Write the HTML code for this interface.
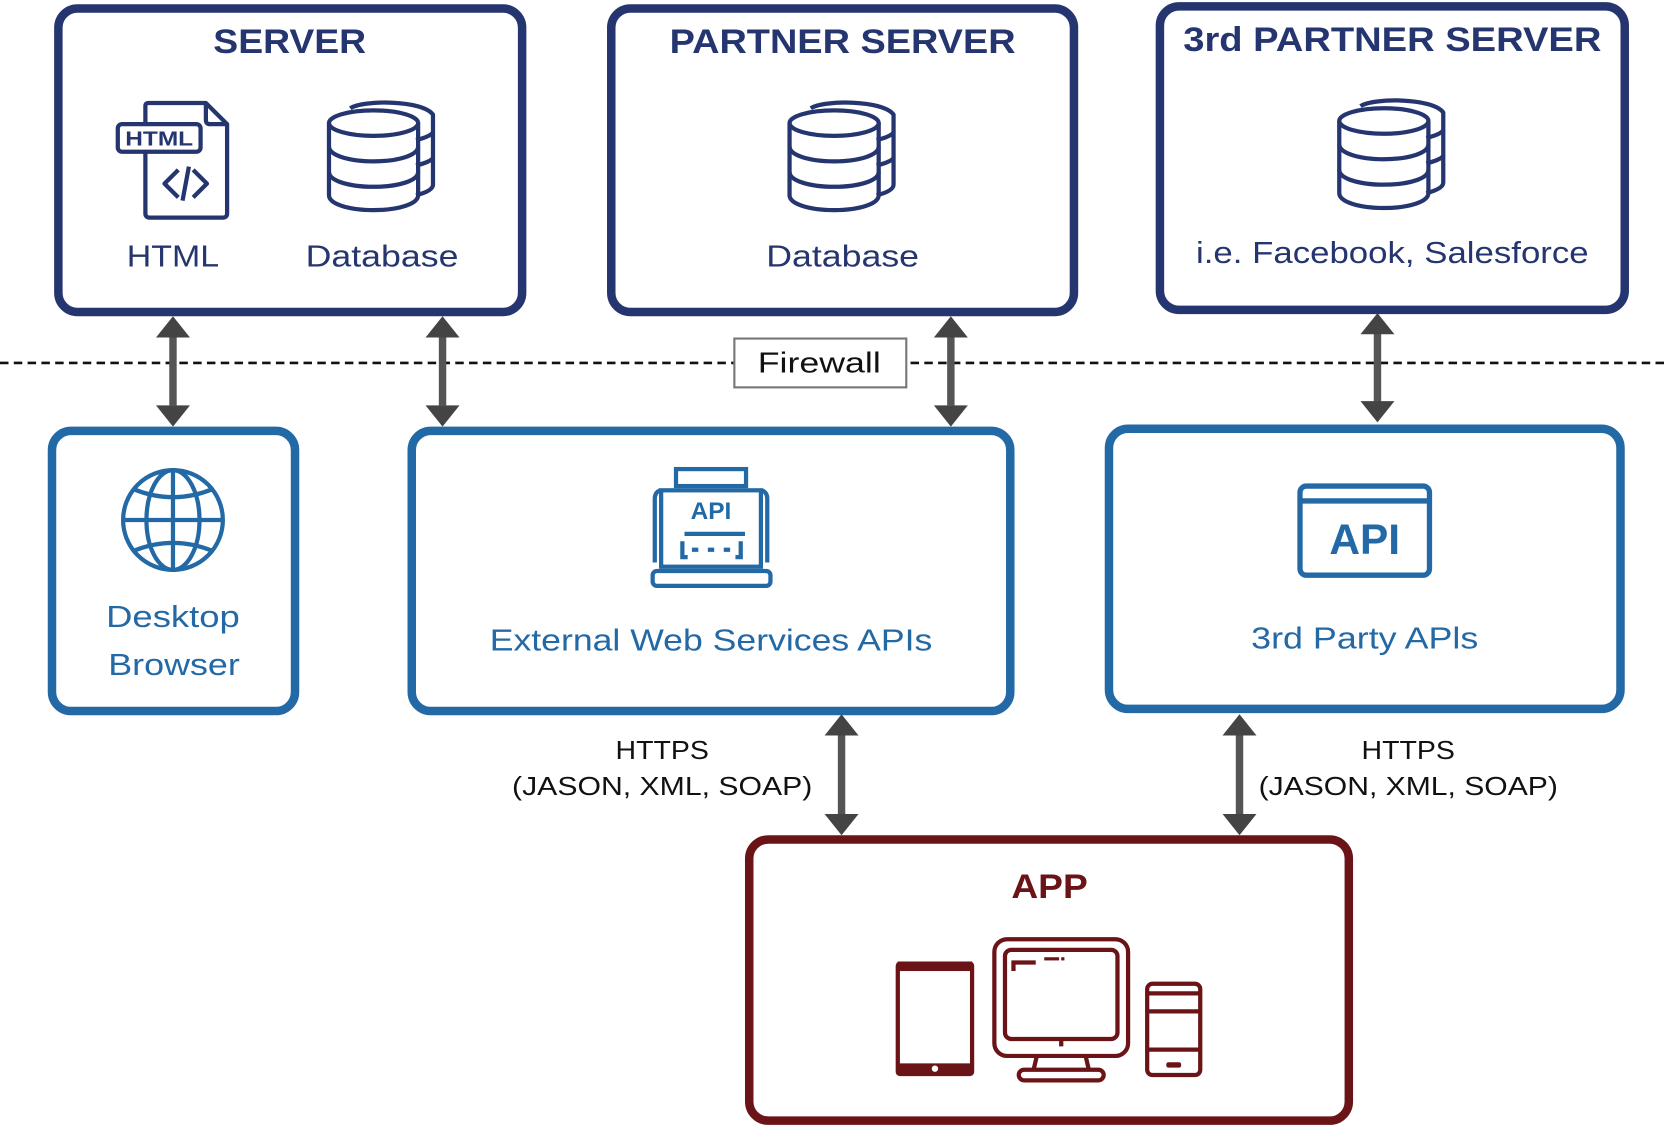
<!DOCTYPE html>
<html><head><meta charset="utf-8"><style>
html,body{margin:0;padding:0;background:#fff;}
svg{display:block;}
text{font-family:"Liberation Sans","DejaVu Sans",sans-serif;}
</style></head><body>
<svg width="1664" height="1126" viewBox="0 0 1568 1061" xmlns="http://www.w3.org/2000/svg">
<defs>
  <g id="db" fill="none" stroke-width="4" stroke-linejoin="round">
    <path d="M22 6 C34 -2 90 -2 100 12 V78 C100 83 92 86 84 88"/>
    <path d="M84 36 C92 34 100 31 100 28"/>
    <path d="M84 60 C92 58 100 55 100 52"/>
    <ellipse cx="44" cy="20" rx="42" ry="12"/>
    <path d="M2 20 V88 C2 96 20 102 44 102 C68 102 86 96 86 88 V20"/>
    <path d="M2 42 C2 50 20 56 44 56 C68 56 86 50 86 42"/>
    <path d="M2 66 C2 74 20 80 44 80 C68 80 86 74 86 66"/>
  </g>
</defs>

<line x1="0" y1="342" x2="1568" y2="342" stroke="#111" stroke-width="2.5" stroke-dasharray="8 5"/>
<rect x="692" y="319" width="162" height="46" fill="#fff" stroke="#777" stroke-width="2"/>
<text x="772" y="351" font-size="27" text-anchor="middle" fill="#111" textLength="116" lengthAdjust="spacingAndGlyphs">Firewall</text>

<g fill="#fff" stroke="#25356f" stroke-width="8">
  <rect x="55" y="8" width="437" height="286" rx="18"/>
  <rect x="576" y="8" width="436" height="286" rx="18"/>
  <rect x="1093" y="6" width="438" height="286" rx="18"/>
</g>
<g fill="#25356f" text-anchor="middle" lengthAdjust="spacingAndGlyphs">
  <text x="273" y="50" font-size="32" font-weight="bold" textLength="144" lengthAdjust="spacingAndGlyphs">SERVER</text>
  <text x="794" y="50" font-size="32" font-weight="bold" textLength="326" lengthAdjust="spacingAndGlyphs">PARTNER SERVER</text>
  <text x="1312" y="48" font-size="32" font-weight="bold" textLength="394" lengthAdjust="spacingAndGlyphs">3rd PARTNER SERVER</text>
  <text x="163" y="251" font-size="29" textLength="87" lengthAdjust="spacingAndGlyphs">HTML</text>
  <text x="360" y="251" font-size="29" textLength="144" lengthAdjust="spacingAndGlyphs">Database</text>
  <text x="794" y="251" font-size="29" textLength="144" lengthAdjust="spacingAndGlyphs">Database</text>
  <text x="1312" y="248" font-size="29" textLength="370" lengthAdjust="spacingAndGlyphs">i.e. Facebook, Salesforce</text>
</g>
<g stroke="#25356f">
  <use href="#db" transform="translate(308,96)"/>
  <use href="#db" transform="translate(742,96)"/>
  <use href="#db" transform="translate(1260,94)"/>
</g>
<g fill="none" stroke="#25356f" stroke-width="4" stroke-linejoin="round">
  <path d="M137 117 V100 Q137 97 140 97 H194 L214 117 V201 Q214 205 210 205 H141 Q137 205 137 201 V143"/>
  <path d="M194 97 V113 Q194 117 198 117 H214"/>
  <rect x="111" y="117" width="78" height="26" rx="4"/>
  <path d="M168 160 L155 173 L168 186 M182 160 L195 173 L182 186 M178 157 L172 189"/>
</g>
<text x="150" y="137" font-size="19" font-weight="bold" fill="#25356f" text-anchor="middle" textLength="64" lengthAdjust="spacingAndGlyphs">HTML</text>

<g fill="#fff" stroke="#2369a6" stroke-width="8">
  <rect x="49" y="406" width="229" height="264" rx="18"/>
  <rect x="388" y="406" width="564" height="264" rx="18"/>
  <rect x="1045" y="404" width="482" height="264" rx="18"/>
</g>
<g fill="#2369a6" text-anchor="middle" font-size="29">
  <text x="163" y="591" textLength="126" lengthAdjust="spacingAndGlyphs">Desktop</text>
  <text x="164" y="636" textLength="124" lengthAdjust="spacingAndGlyphs">Browser</text>
  <text x="670" y="613" textLength="417" lengthAdjust="spacingAndGlyphs">External Web Services APIs</text>
  <text x="1286" y="611" textLength="214" lengthAdjust="spacingAndGlyphs">3rd Party APls</text>
</g>
<g fill="none" stroke="#2369a6" stroke-width="4">
  <circle cx="163" cy="490" r="47"/>
  <ellipse cx="163" cy="490" rx="25" ry="47"/>
  <line x1="163" y1="443" x2="163" y2="537"/>
  <line x1="116" y1="490" x2="210" y2="490"/>
  <path d="M126 461 Q163 476 200 461 M126 519 Q163 504 200 519"/>
</g>
<g fill="none" stroke="#2369a6" stroke-width="4">
  <rect x="637" y="442" width="66" height="16"/>
  <rect x="623" y="462" width="94" height="72"/>
  <path d="M617 530 V470 Q617 464 622 462 M723 530 V470 Q723 464 718 462"/>
  <rect x="615" y="538" width="111" height="14" rx="4"/>
  <path d="M645 503 H702 M643 510 V525 H648 M698 510 V525 H693 M652 518 H658 M667 518 H673 M682 518 H688"/>
</g>
<text x="670" y="489" font-size="23" font-weight="bold" fill="#2369a6" text-anchor="middle" font-family="Liberation Mono, monospace">API</text>
<g fill="none" stroke="#2369a6" stroke-width="5">
  <rect x="1225" y="458" width="122" height="84" rx="6"/>
  <line x1="1225" y1="472" x2="1347" y2="472"/>
</g>
<text x="1286" y="522" font-size="40" font-weight="bold" fill="#2369a6" text-anchor="middle">API</text>

<rect x="706" y="791" width="565" height="265" rx="18" fill="#fff" stroke="#6b1417" stroke-width="8"/>
<text x="989" y="846" font-size="32" font-weight="bold" fill="#6b1417" text-anchor="middle" textLength="72" lengthAdjust="spacingAndGlyphs">APP</text>
<g fill="none" stroke="#6b1417" stroke-width="4">
  <rect x="846" y="908" width="70" height="104" rx="2"/>
  <rect x="937" y="885" width="126" height="110" rx="12"/>
  <rect x="947" y="895" width="106" height="84" rx="6"/>
  <path d="M955 915 V907 H976"/>
  <path d="M977 995 L974 1008 M1023 995 L1026 1008"/>
  <rect x="960" y="1008" width="80" height="10" rx="5"/>
  <rect x="1081" y="927" width="50" height="86" rx="5"/>
  <path d="M1082 936 H1130 M1082 953 H1130 M1082 989 H1130"/>
</g>
<g fill="#6b1417">
  <rect x="846" y="906" width="70" height="9"/>
  <rect x="846" y="1002" width="70" height="10"/>
  <circle cx="881" cy="1007" r="3" fill="#fff"/>
  <rect x="984" y="902" width="14" height="3"/>
  <rect x="1000" y="902" width="3" height="3"/>
  <rect x="998" y="980" width="4" height="6"/>
  <rect x="1099" y="1001" width="14" height="5" rx="2"/>
</g>

<g fill="#555">
  <rect x="159.5" y="316" width="7" height="66"/>
  <rect x="413.5" y="316" width="7" height="66"/>
  <rect x="892.5" y="316" width="7" height="66"/>
  <rect x="1294.5" y="313" width="7" height="66"/>
  <rect x="789.5" y="692" width="7" height="76"/>
  <rect x="1164.5" y="692" width="7" height="76"/>
</g>
<g fill="#444">
  <path d="M163 298 L179 318 H147 Z M163 402 L179 382 H147 Z"/>
  <path d="M417 298 L433 318 H401 Z M417 402 L433 382 H401 Z"/>
  <path d="M896 298 L912 318 H880 Z M896 402 L912 382 H880 Z"/>
  <path d="M1298 295 L1314 315 H1282 Z M1298 398 L1314 378 H1282 Z"/>
  <path d="M793 673 L809 693 H777 Z M793 787 L809 767 H777 Z"/>
  <path d="M1168 673 L1184 693 H1152 Z M1168 787 L1184 767 H1152 Z"/>
</g>
<g fill="#111" font-size="24" text-anchor="middle">
  <text x="624" y="715" textLength="88" lengthAdjust="spacingAndGlyphs">HTTPS</text>
  <text x="624" y="749" textLength="283" lengthAdjust="spacingAndGlyphs">(JASON, XML, SOAP)</text>
  <text x="1327" y="715" textLength="88" lengthAdjust="spacingAndGlyphs">HTTPS</text>
  <text x="1327" y="749" textLength="282" lengthAdjust="spacingAndGlyphs">(JASON, XML, SOAP)</text>
</g>
</svg>
</body></html>
